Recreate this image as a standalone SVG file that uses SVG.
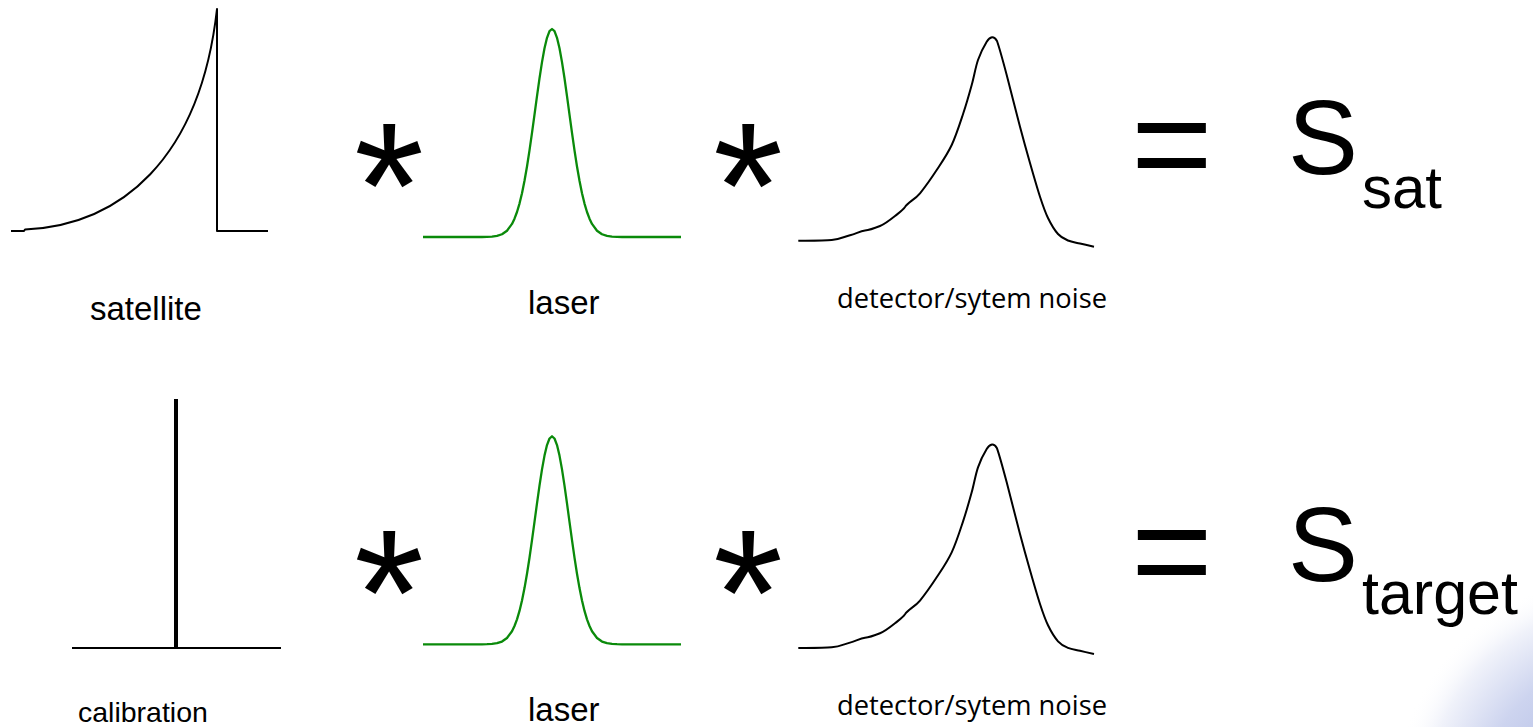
<svg xmlns="http://www.w3.org/2000/svg" width="1533" height="727" viewBox="0 0 1533 727">
<style>
.blk{fill:none;stroke:#000;stroke-width:2;stroke-linejoin:round;stroke-linecap:butt}
.grn{fill:none;stroke:#0a8a0a;stroke-width:2.3;stroke-linejoin:round}
.lab{font-family:"Liberation Sans",Arial,sans-serif;fill:#000}
.noise{font-family:"Open Sans","Noto Sans",sans-serif;fill:#000;font-size:27.3px}
.op{font-family:"Liberation Sans",Arial,sans-serif;fill:#000;text-anchor:middle}
.big{font-family:"Liberation Sans",Arial,sans-serif;fill:#000}
</style>
<defs>
<radialGradient id="glow" cx="1615" cy="795" r="220" gradientUnits="userSpaceOnUse">
<stop offset="0" stop-color="#a3b0e0"/>
<stop offset="0.6" stop-color="#cdd4ef"/>
<stop offset="0.85" stop-color="#f0f2fa"/>
<stop offset="1" stop-color="#ffffff" stop-opacity="0"/>
</radialGradient>
<path id="gauss" class="grn" d="M-129,0 L-70,0 L-65,-0.1 L-60,-0.4 L-55,-1.1 L-50,-2.75 L-45,-6.3 L-40,-13.1 L-37.5,-18.3 L-35,-25 L-32.5,-33.4 L-30,-43.8 L-27.5,-56.2 L-25,-70.5 L-22.5,-86.6 L-20,-104.1 L-17.5,-122.4 L-15,-140.9 L-12.5,-158.7 L-10,-174.9 L-7.5,-188.7 L-5,-199.2 L-2.5,-205.8 L0,-208 L2.5,-205.8 L5,-199.2 L7.5,-188.7 L10,-174.9 L12.5,-158.7 L15,-140.9 L17.5,-122.4 L20,-104.1 L22.5,-86.6 L25,-70.5 L27.5,-56.2 L30,-43.8 L32.5,-33.4 L35,-25 L37.5,-18.3 L40,-13.1 L45,-6.3 L50,-2.75 L55,-1.1 L60,-0.4 L65,-0.1 L70,0 L129,0"/>
<path id="noisecurve" class="blk" d="M798.3,240.7 C803.87,240.58 823.08,240.9 831.7,240 C840.32,239.1 843.62,236.97 850,235.3 C856.38,233.63 860,231 865,230.5 C870,230 875,228 880,226 C885,224 890,220 895,216 C900,212 903,210 905,207 C908,202 914.72,199.8 920,193.3 C925.28,186.8 931.42,178.05 936.7,170 C941.98,161.95 947.27,154.45 951.7,145 C956.13,135.55 959.97,123.3 963.3,113.3 C966.63,103.3 969.25,93.88 971.7,85 C974.15,76.12 975.5,67.22 978,60 C980.5,52.78 984.37,45.48 986.7,41.7 C989.03,37.92 990.28,37.58 992,37.3 C993.5,37.1 995.5,38.5 997,41 C998.6,45.5 1002.87,60.55 1006.7,75 C1010.53,89.45 1016.12,112.03 1020,126.7 C1023.88,141.37 1026.67,151.33 1030,163 C1033.33,174.67 1037,187.53 1040,196.7 C1043,205.87 1045,211.78 1048,218 C1051,224.22 1054.67,230.25 1058,234 C1061.33,237.75 1064.33,238.92 1068,240.5 C1071.67,242.08 1075.67,242.47 1080,243.5 C1084.33,244.53 1091.67,246.17 1094,246.7"/>
</defs>
<rect width="1533" height="727" fill="#fff"/>
<circle cx="1615" cy="795" r="220" fill="url(#glow)"/>

<g id="satellite">
<path class="blk" d="M11,231 L24,231 L25,229.5 C120,225 200,160 217,9 L217,231 L268,231"/>
<text class="lab" x="90" y="320" font-size="33">satellite</text>
</g>

<g id="laser-top">
<use href="#gauss" transform="translate(552,237)"/>
<text class="lab" x="528" y="314" font-size="33">laser</text>
</g>

<g id="noise-top">
<use href="#noisecurve"/>
<text class="noise" x="837" y="308">detector/sytem noise</text>
</g>

<g id="ssat">
<text class="big" x="1288" y="174" font-size="105">S</text>
<text class="big" x="1362" y="208" font-size="60">sat</text>
</g>

<g id="calibration">
<line x1="176" y1="399" x2="176" y2="648" stroke="#000" stroke-width="4"/>
<line x1="72" y1="648" x2="281" y2="648" stroke="#000" stroke-width="2.2"/>
<text class="lab" x="78" y="722" font-size="28.5">calibration</text>
</g>

<g id="laser-bottom">
<use href="#gauss" transform="translate(552,644.3)"/>
<text class="lab" x="528" y="721" font-size="33">laser</text>
</g>

<g id="noise-bottom">
<use href="#noisecurve" transform="translate(0,407.3)"/>
<text class="noise" x="837" y="715">detector/sytem noise</text>
</g>

<g id="starget">
<text class="big" x="1288" y="581" font-size="105">S</text>
<text class="big" x="1362" y="614" font-size="61">target</text>
</g>

<g id="operators">
<text class="op" x="389" y="248" font-size="180">*</text>
<text class="op" x="748" y="248" font-size="180">*</text>
<text class="op" x="389" y="655" font-size="180">*</text>
<text class="op" x="748" y="655" font-size="180">*</text>
<text class="op" x="1172" y="191" font-size="140">=</text>
<text class="op" x="1172" y="598" font-size="140">=</text>
</g>
<g id="connectors"/>
</svg>
